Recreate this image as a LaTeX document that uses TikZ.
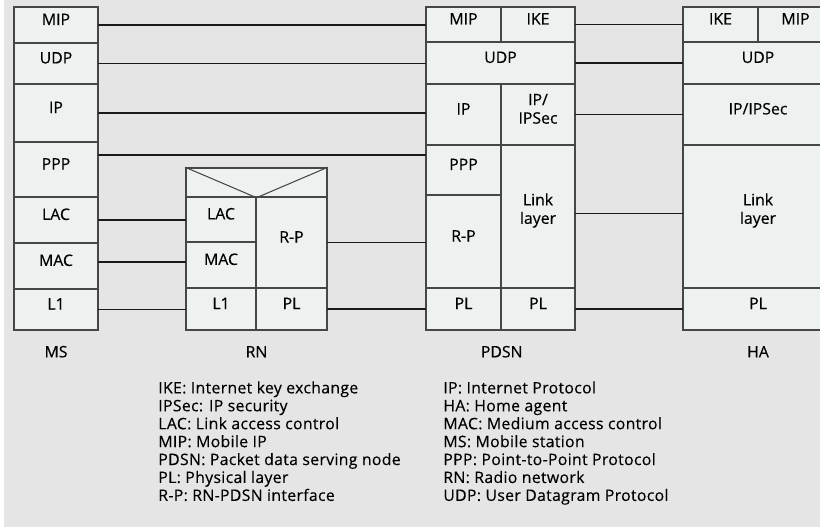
\documentclass[tikz,border=0pt]{standalone}
\usepackage{fontspec}
\setmainfont{Open Sans}
\newfontfamily\celdafont{Open Sans}[FakeBold=0.4]
\newfontfamily\leyendafont{Open Sans}[FakeBold=0.25,LetterSpace=2]
\usetikzlibrary{calc,fit,positioning}
\definecolor{fondo}{RGB}{229,229,229}
\definecolor{celda}{RGB}{237,241,239}
\definecolor{borde}{RGB}{70,70,70}
\definecolor{linea}{RGB}{25,25,25}

\begin{document}
\begin{tikzpicture}[x=0.02cm,y=-0.02cm,line cap=round,
  cell/.style={draw=borde,fill=celda,line width=0.8pt,inner sep=0pt,
               align=center,font=\celdafont\fontsize{9}{10.5}\selectfont},
  link/.style={draw=linea,line width=0.95pt},
  tag/.style={font=\celdafont\fontsize{9}{10}\selectfont},
  legend/.style={anchor=north west,align=left,inner sep=0pt,
                 font=\leyendafont\fontsize{9}{10.2}\selectfont}]
  \useasboundingbox (0,0) rectangle (820,527);
  \clip (0,0) rectangle (820,527);
  \fill[fondo] (4,0) rectangle (820,527);
  % pila MS
  \foreach \n/\t/\b in {MIP/7/43,UDP/43/84,IP/84/142,PPP/142/197,
                        LAC/197/243,MAC/243/289,L1/289/330}{
    \node[cell,fit={(14,\t) (98,\b)}] (ms\n) {\n};
  }
  % pila RN
  \node[cell,fit={(186,168) (327,197)}] (rnTop) {};
  \draw[borde,line width=0.6pt] (rnTop.north west) -- (rnTop.south) -- (rnTop.north east);
  \node[cell,fit={(186,197) (256,242)}] (rnLAC) {LAC};
  \node[cell,fit={(186,242) (256,288)}] (rnMAC) {MAC};
  \node[cell,fit={(186,288) (256,330)}] (rnL1) {L1};
  \node[cell,fit={(256,197) (327,288)}] (rnRP) {R-P};
  \node[cell,fit={(256,288) (327,330)}] (rnPL) {PL};
  % pila PDSN
  \node[cell,fit={(426,7) (501,42)}] (pdsnMIP) {MIP};
  \node[cell,fit={(501,7) (575,42)}] (pdsnIKE) {IKE};
  \node[cell,fit={(426,42) (575,84)}] (pdsnUDP) {UDP};
  \node[cell,fit={(426,84) (501,145)}] (pdsnIP) {IP};
  \node[cell,fit={(501,84) (575,145)}] (pdsnIPSec) {IP/\\IPSec};
  \node[cell,fit={(426,145) (501,195)}] (pdsnPPP) {PPP};
  \node[cell,fit={(426,195) (501,288)}] (pdsnRP) {R-P};
  \node[cell,fit={(501,145) (575,288)}] (pdsnLink) {Link\\layer};
  \node[cell,fit={(426,288) (501,330)}] (pdsnPLa) {PL};
  \node[cell,fit={(501,288) (575,330)}] (pdsnPLb) {PL};
  % pila HA
  \node[cell,fit={(683,7) (758,42)}] (haIKE) {IKE};
  \node[cell,fit={(758,7) (833,42)}] (haMIP) {MIP};
  \node[cell,fit={(683,42) (833,84)}] (haUDP) {UDP};
  \node[cell,fit={(683,84) (833,145)}] (haIPSec) {IP/IPSec};
  \node[cell,fit={(683,145) (833,288)}] (haLink) {Link\\layer};
  \node[cell,fit={(683,288) (833,330)}] (haPL) {PL};
  % enlaces MS - PDSN
  \foreach \a/\b in {MIP/MIP,UDP/UDP,IP/IP}{
    \draw[link] (ms\a.east) -- (ms\a.east -| pdsn\b.west);
  }
  \coordinate (pppL) at ($(msPPP.north east)+(0,14)$);
  \draw[link] (pppL) -- (pppL -| pdsnPPP.west);
  % enlaces MS - RN
  \coordinate (macL) at ($(msMAC.east)+(0,-4)$);
  \draw[link] (msLAC.east) -- (msLAC.east -| rnLAC.west);
  \draw[link] (macL) -- (macL -| rnMAC.west);
  \draw[link] (msL1.east) -- (msL1.east -| rnL1.west);
  % enlaces RN - PDSN
  \draw[link] (rnRP.east) -- (rnRP.east -| pdsnRP.west);
  \draw[link] (rnPL.east) -- (rnPL.east -| pdsnPLa.west);
  % enlaces PDSN - HA
  \coordinate (linkR) at ($(pdsnLink.east)+(0,-3)$);
  \draw[link] (pdsnIKE.east) -- (pdsnIKE.east -| haIKE.west);
  \draw[link] (pdsnUDP.east) -- (pdsnUDP.east -| haUDP.west);
  \draw[link] (pdsnIPSec.east) -- (pdsnIPSec.east -| haIPSec.west);
  \draw[link] (linkR) -- (linkR -| haLink.west);
  \draw[link] (pdsnPLb.east) -- (pdsnPLb.east -| haPL.west);
  % nombres de las pilas
  \node[tag] (msTag) at ($(msL1.south)+(0,21)$) {MS};
  \node[tag] (rnTag) at ($(rnTop.south |- rnL1.south)+(0,21)$) {RN};
  \node[tag] (pdsnTag) at ($(pdsnPLa.south east)+(0,21)$) {PDSN};
  \node[tag] (haTag) at ($(haPL.south)+(0,21)$) {HA};
  % leyenda
  \node[legend] (legA) at (158,381) {IKE: Internet key exchange\\
    IPSec: IP security\\ LAC: Link access control\\ MIP: Mobile IP\\
    PDSN: Packet data serving node\\ PL: Physical layer\\
    R-P: RN-PDSN interface};
  \node[legend] (legB) at (443,381) {IP: Internet Protocol\\
    HA: Home agent\\ MAC: Medium access control\\ MS: Mobile station\\
    PPP: Point-to-Point Protocol\\ RN: Radio network\\
    UDP: User Datagram Protocol};
\end{tikzpicture}
\end{document}
